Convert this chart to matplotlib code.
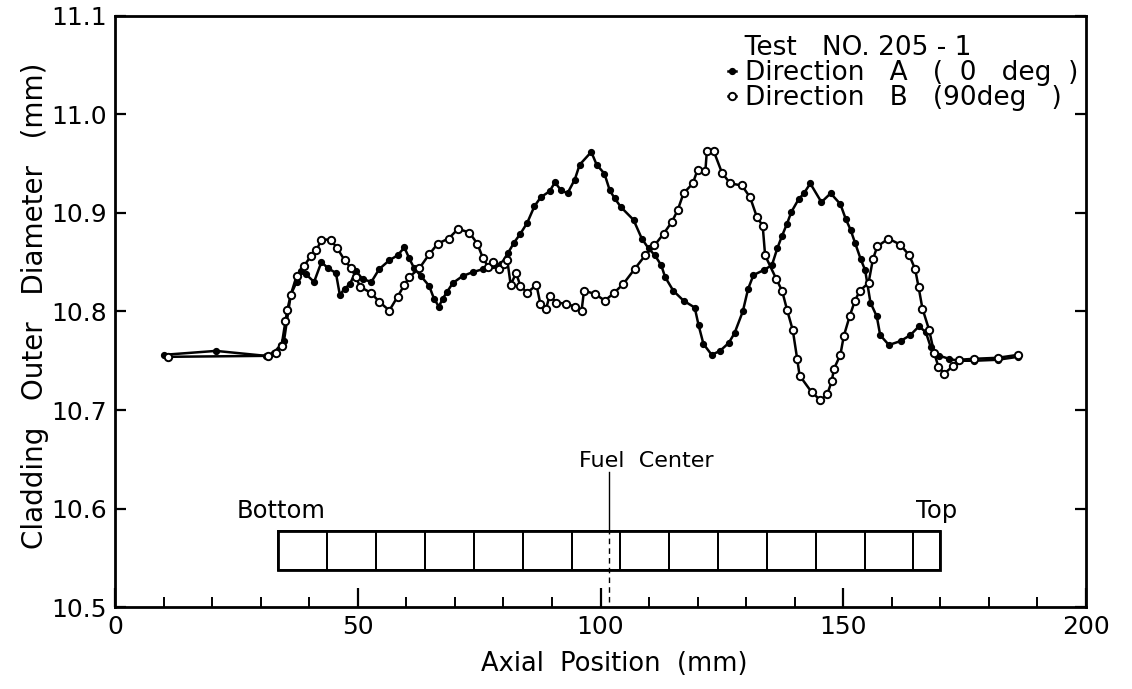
import matplotlib
matplotlib.use("Agg")
import matplotlib.pyplot as plt
from matplotlib.patches import Rectangle
import numpy as np

# Direction A (0 deg), filled dots
dir_a_x = [10.0, 20.8, 31.0, 32.7, 34.1, 34.8, 36.2, 37.4, 38.4, 39.3,
           41.0, 42.5, 43.9, 45.5, 46.3, 47.3, 48.4, 49.6, 51.0, 52.8,
           54.4, 56.5, 58.2, 59.6, 60.6, 61.6, 63.0, 64.7, 65.7, 66.7,
           67.5, 68.4, 69.6, 71.6, 73.7, 75.8, 77.8, 79.5, 80.9, 82.2,
           83.5, 84.9, 86.4, 87.7, 89.5, 90.6, 91.9, 93.2, 94.7, 95.7,
           98.1, 99.2, 100.8, 101.9, 102.9, 104.2, 106.8, 108.5, 109.9, 111.2,
           112.5, 113.3, 115.0, 117.1, 119.4, 120.2, 121.2, 122.9, 124.6, 126.4,
           127.6, 129.3, 130.4, 131.5, 133.6, 135.3, 136.4, 137.4, 138.4, 139.3,
           140.8, 141.9, 143.2, 145.5, 147.4, 149.4, 150.5, 151.5, 152.4, 153.6,
           154.5, 155.6, 156.9, 157.6, 159.4, 161.8, 163.8, 165.6, 167.0, 168.0,
           169.8, 171.8, 173.6, 177.0, 181.8, 186.0]
dir_a_y = [10.756, 10.760, 10.755, 10.758, 10.766, 10.770, 10.817, 10.830, 10.841, 10.838,
           10.830, 10.850, 10.844, 10.839, 10.817, 10.823, 10.828, 10.841, 10.833, 10.830,
           10.843, 10.852, 10.857, 10.865, 10.854, 10.844, 10.836, 10.826, 10.813, 10.805,
           10.813, 10.820, 10.829, 10.836, 10.840, 10.843, 10.847, 10.848, 10.859, 10.870,
           10.879, 10.890, 10.907, 10.916, 10.922, 10.931, 10.923, 10.920, 10.934, 10.949,
           10.962, 10.949, 10.940, 10.923, 10.915, 10.906, 10.893, 10.874, 10.864, 10.857,
           10.847, 10.835, 10.821, 10.811, 10.804, 10.786, 10.767, 10.756, 10.760, 10.768,
           10.778, 10.800, 10.823, 10.837, 10.842, 10.847, 10.864, 10.877, 10.889, 10.901,
           10.914, 10.920, 10.930, 10.911, 10.920, 10.909, 10.894, 10.883, 10.870, 10.853,
           10.842, 10.809, 10.795, 10.776, 10.766, 10.770, 10.776, 10.785, 10.779, 10.764,
           10.755, 10.752, 10.750, 10.750, 10.751, 10.754]

# Direction B (90 deg), open circles
dir_b_x = [11.0, 31.5, 33.2, 34.3, 35.1, 35.5, 36.2, 37.4, 38.9, 40.3,
           41.5, 42.5, 44.4, 45.8, 47.3, 48.6, 49.6, 50.5, 52.7, 54.4,
           56.5, 58.2, 59.6, 60.6, 62.7, 64.7, 66.5, 68.7, 70.7, 73.0,
           74.6, 75.8, 76.9, 77.8, 79.0, 80.2, 80.8, 81.5, 82.6, 83.5,
           84.9, 86.8, 87.6, 88.8, 89.5, 90.9, 92.8, 94.7, 96.1, 96.6,
           98.8, 100.9, 102.8, 104.7, 107.0, 109.2, 111.1, 113.0, 114.7, 115.9,
           117.1, 119.0, 120.0, 121.6, 121.9, 123.3, 125.0, 126.7, 129.1, 130.8,
           132.2, 133.4, 133.9, 136.2, 137.4, 138.4, 139.6, 140.5, 141.0, 143.5,
           145.3, 146.7, 147.6, 148.1, 149.4, 150.1, 151.3, 152.4, 153.4, 155.2,
           156.1, 157.0, 159.3, 161.7, 163.6, 164.8, 165.5, 166.3, 167.7, 168.7,
           169.6, 170.8, 172.7, 173.8, 177.0, 181.8, 186.0]
dir_b_y = [10.754, 10.755, 10.758, 10.765, 10.790, 10.802, 10.817, 10.836, 10.846, 10.856,
           10.862, 10.873, 10.873, 10.864, 10.852, 10.844, 10.835, 10.825, 10.819, 10.810,
           10.801, 10.815, 10.827, 10.835, 10.844, 10.858, 10.869, 10.874, 10.884, 10.880,
           10.869, 10.854, 10.845, 10.850, 10.843, 10.848, 10.852, 10.827, 10.839, 10.826,
           10.819, 10.827, 10.808, 10.803, 10.816, 10.809, 10.808, 10.805, 10.801, 10.821,
           10.818, 10.811, 10.819, 10.828, 10.843, 10.857, 10.867, 10.879, 10.891, 10.903,
           10.920, 10.930, 10.944, 10.943, 10.963, 10.963, 10.941, 10.930, 10.928, 10.916,
           10.896, 10.887, 10.857, 10.833, 10.821, 10.802, 10.781, 10.752, 10.735, 10.718,
           10.710, 10.716, 10.729, 10.742, 10.756, 10.775, 10.795, 10.811, 10.821, 10.829,
           10.853, 10.866, 10.874, 10.868, 10.857, 10.843, 10.825, 10.803, 10.781, 10.758,
           10.744, 10.737, 10.745, 10.751, 10.752, 10.753, 10.756]

# fuel stack sketch
cell_edges = [33.5, 43.7, 53.8, 63.9, 74.0, 84.1, 94.1, 104.1, 114.1,
              124.2, 134.2, 144.3, 154.4, 164.3, 170.0]
stack_bottom, stack_top = 10.538, 10.577
fuel_center = 101.7

x_ticks = [0, 50, 100, 150, 200]
y_ticks = [10.5, 10.6, 10.7, 10.8, 10.9, 11.0, 11.1]

plt.rcParams["font.family"] = "DejaVu Sans"

fig = plt.figure(figsize=(11.32, 6.89), dpi=100)
ax = fig.add_axes([0.1016, 0.119, 0.8578, 0.8578])

ax.plot(dir_a_x, dir_a_y, "-o", color="black", lw=1.8, ms=4.2,
        mfc="black", mec="black", label="Direction   A   (  0   deg  )")
ax.plot(dir_b_x, dir_b_y, "-o", color="black", lw=1.8, ms=5.3,
        mfc="white", mec="black", mew=1.4, label="Direction   B   (90deg   )")

# stack of fuel pellets
for left, right in zip(cell_edges[:-1], cell_edges[1:]):
    ax.add_patch(Rectangle((left, stack_bottom), right - left,
                           stack_top - stack_bottom, fill=False,
                           lw=1.4, ec="black"))
ax.add_patch(Rectangle((cell_edges[0], stack_bottom),
                       cell_edges[-1] - cell_edges[0],
                       stack_top - stack_bottom, fill=False, lw=2.0, ec="black"))
ax.plot([fuel_center, fuel_center], [stack_top, 10.637], color="black", lw=1.0)
ax.plot([fuel_center, fuel_center], [10.505, stack_top], color="black",
        lw=1.0, ls=(0, (4, 3)))

ax.text(109.5, 10.648, "Fuel  Center", ha="center", va="center", fontsize=16)
ax.text(25.0, 10.597, "Bottom", ha="left", va="center", fontsize=17.5)
ax.text(165.0, 10.597, "Top", ha="left", va="center", fontsize=17.5)

ax.set_xlim(0, 200)
ax.set_ylim(10.5, 11.1)
ax.set_xticks(x_ticks)
ax.set_xticklabels([str(t) for t in x_ticks])
ax.set_xticks(np.arange(10, 200, 10), minor=True)
ax.set_yticks(y_ticks)
ax.set_yticklabels([f"{t:.1f}" for t in y_ticks])

ax.tick_params(axis="x", which="major", direction="in", length=14, width=1.6,
               labelsize=18, pad=6, top=False)
ax.tick_params(axis="x", which="minor", direction="in", length=7, width=1.4,
               top=False)
ax.tick_params(axis="y", which="major", direction="in", length=8, width=1.6,
               labelsize=18, pad=6, right=True)
for s in ax.spines.values():
    s.set_linewidth(2.0)

ax.set_xlabel("Axial  Position  (mm)", fontsize=18.5)
ax.xaxis.set_label_coords(0.514, -0.075)
ax.set_ylabel("Cladding   Outer   Diameter   (mm)", fontsize=20)
ax.yaxis.set_label_coords(-0.068, 0.51)

leg = ax.legend(title="  Test   NO. 205 - 1", loc="upper left",
                bbox_to_anchor=(0.62, 0.985), frameon=False,
                handlelength=0.3, handletextpad=0.35, labelspacing=-0.05,
                borderaxespad=0, fontsize=19, title_fontsize=19,
                alignment="left")

fig.savefig("out.png", dpi=100)
